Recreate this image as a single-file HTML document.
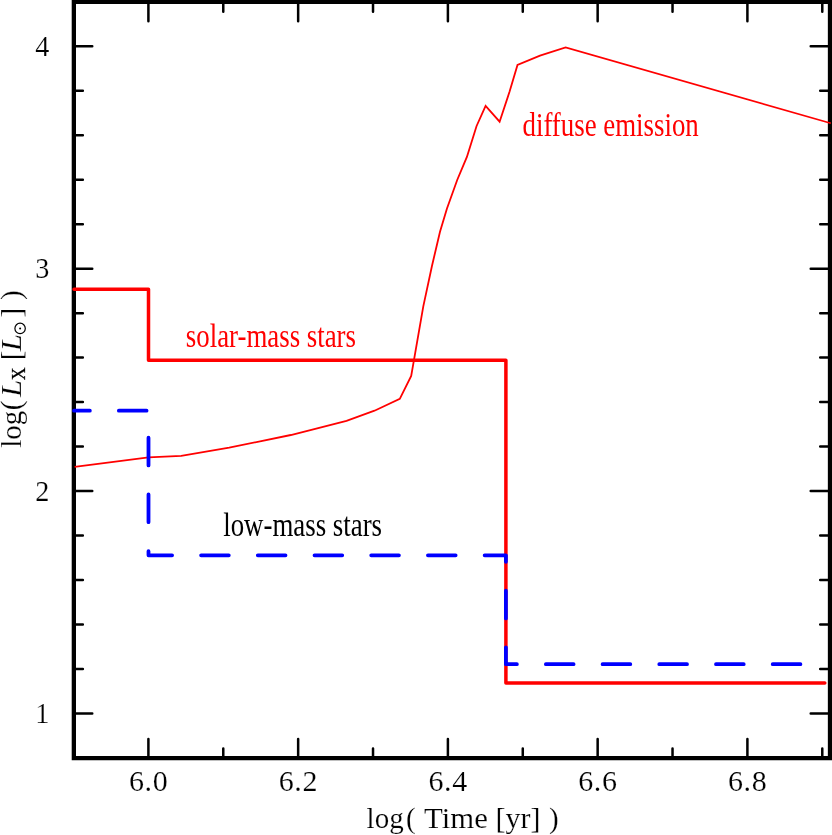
<!DOCTYPE html>
<html><head><meta charset="utf-8">
<style>
html,body{margin:0;padding:0;background:#fff;}
svg{display:block;will-change:transform;}
text{font-family:"Liberation Serif",serif;}
.thin text{stroke:#fff;stroke-width:0.18px;}
.thin text.sub{stroke:#000;stroke-width:0.25px;}
</style></head>
<body>
<svg width="832" height="835" viewBox="0 0 832 835">
<rect width="832" height="835" fill="#fff"/>
<g stroke="#000" stroke-width="4.3" fill="none" stroke-linecap="square">
<path d="M73.85,1.9 H830.0 V758.2 H73.85 Z"/>
</g>
<path stroke="#000" stroke-width="2.5" stroke-linecap="round" fill="none" d="M148.40,758.20V738.90M148.40,1.90V21.20M223.27,758.20V748.40M223.27,1.90V11.70M298.15,758.20V738.90M298.15,1.90V21.20M373.02,758.20V748.40M373.02,1.90V11.70M447.90,758.20V738.90M447.90,1.90V21.20M522.77,758.20V748.40M522.77,1.90V11.70M597.65,758.20V738.90M597.65,1.90V21.20M672.53,758.20V748.40M672.53,1.90V11.70M747.40,758.20V738.90M747.40,1.90V21.20M822.28,758.20V748.40M822.28,1.90V11.70M73.85,713.45H92.25M830.00,713.45H810.70M73.85,668.97H82.85M830.00,668.97H820.20M73.85,624.49H82.85M830.00,624.49H820.20M73.85,580.01H82.85M830.00,580.01H820.20M73.85,535.53H82.85M830.00,535.53H820.20M73.85,491.05H92.25M830.00,491.05H810.70M73.85,446.57H82.85M830.00,446.57H820.20M73.85,402.09H82.85M830.00,402.09H820.20M73.85,357.61H82.85M830.00,357.61H820.20M73.85,313.13H82.85M830.00,313.13H820.20M73.85,268.65H92.25M830.00,268.65H810.70M73.85,224.17H82.85M830.00,224.17H820.20M73.85,179.69H82.85M830.00,179.69H820.20M73.85,135.21H82.85M830.00,135.21H820.20M73.85,90.73H82.85M830.00,90.73H820.20M73.85,46.25H92.25M830.00,46.25H810.70"/>
<g class="thin" font-size="29" fill="#000">
<text font-size="30" text-anchor="middle" letter-spacing="0" transform="translate(42.40,56.05) scale(0.940,1)">4</text><text font-size="30" text-anchor="middle" letter-spacing="0" transform="translate(42.40,278.45) scale(0.940,1)">3</text><text font-size="30" text-anchor="middle" letter-spacing="0" transform="translate(42.40,500.85) scale(0.940,1)">2</text><text font-size="30" text-anchor="middle" letter-spacing="0" transform="translate(42.40,723.25) scale(0.940,1)">1</text><text font-size="30" text-anchor="middle" letter-spacing="0.6" transform="translate(148.60,791.40) scale(1.000,1)">6.0</text><text font-size="30" text-anchor="middle" letter-spacing="0.6" transform="translate(298.35,791.40) scale(1.000,1)">6.2</text><text font-size="30" text-anchor="middle" letter-spacing="0.6" transform="translate(448.10,791.40) scale(1.000,1)">6.4</text><text font-size="30" text-anchor="middle" letter-spacing="0.6" transform="translate(597.85,791.40) scale(1.000,1)">6.6</text><text font-size="30" text-anchor="middle" letter-spacing="0.6" transform="translate(747.60,791.40) scale(1.000,1)">6.8</text>
<text transform="translate(366.60,828) scale(1.000,1)">log</text><text transform="translate(405.90,828) scale(1.000,1)">(</text><text transform="translate(423.90,828) scale(1.062,1)">Time</text><text transform="translate(495.60,828) scale(1.035,1)">[yr]</text><text transform="translate(549.00,828) scale(1.000,1)">)</text>
<text font-size="29" transform="translate(21.00,447.80) rotate(-90) scale(1.000,1)">log</text><text font-size="29" transform="translate(21.00,410.30) rotate(-90) scale(1.000,1)">(</text><text font-size="29" font-style="italic" transform="translate(21.00,397.00) rotate(-90) scale(1.070,1)">L</text><text font-size="18.5" class="sub" transform="translate(25.30,380.20) rotate(-90) scale(0.960,1)">X</text><text font-size="29" transform="translate(21.00,360.20) rotate(-90) scale(1.000,1)">[</text><text font-size="29" font-style="italic" transform="translate(21.00,351.20) rotate(-90) scale(1.070,1)">L</text><text font-size="29" transform="translate(21.00,317.50) rotate(-90) scale(1.000,1)">]</text><text font-size="29" transform="translate(21.00,300.00) rotate(-90) scale(1.000,1)">)</text><circle cx="20.1" cy="328.4" r="5.2" fill="none" stroke="#000" stroke-width="1.2"/><circle cx="20.1" cy="328.4" r="1" fill="#000"/>
</g>
<path fill="none" stroke="#f00" stroke-width="1.8" stroke-linejoin="miter" d="M74.6,466.9 L148.5,457.3 L181.2,455.8 L229.2,447.7 L290.8,435 L346.5,420.8 L374.5,410.7 L399.8,398.9 L411.2,375.9 L415.3,352.4 L423.3,306.4 L431.9,266.2 L440,231.7 L446.9,208.7 L457.2,180 L466.9,156.9 L476.5,126.2 L485.6,106 L499.6,121.7 L509.6,91.5 L517.5,65 L540,55.6 L565.6,47.5 L830.8,123.25"/>
<path fill="none" stroke="#f00" stroke-width="3.5" stroke-linejoin="round" stroke-linecap="round" d="M74,289.2 H148.5 V360.2 H505.9 V683 H824.8"/>
<path fill="none" stroke="#00f" stroke-width="3.8" stroke-linejoin="round" stroke-linecap="round" stroke-dasharray="27.7 29.01" stroke-dashoffset="11.85" d="M74,410.7 H148.5 V555.3 H505.9 V664.2 H823"/>
<g font-size="34">
<text fill="#f00" transform="translate(522.5,135.8) scale(0.79,1)">diffuse emission</text>
<text fill="#f00" transform="translate(185.8,346.9) scale(0.79,1)">solar-mass stars</text>
<text fill="#000" transform="translate(223.2,535.8) scale(0.79,1)">low-mass stars</text>
</g>
</svg>
</body></html>
